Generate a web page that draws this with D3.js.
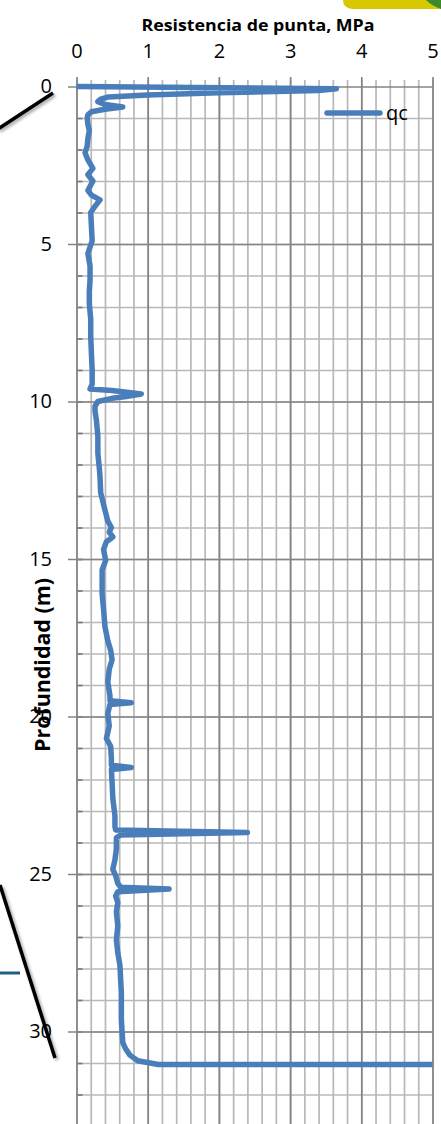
<!DOCTYPE html>
<html><head><meta charset="utf-8">
<script src="https://cdn.jsdelivr.net/npm/d3@7/dist/d3.min.js"></script>
<style>
html,body{margin:0;padding:0;background:#fff;}
svg{display:block;}
text{font-family:"Open Sans","Liberation Sans",sans-serif;fill:#000;}
</style></head>
<body>
<svg id="chart" width="441" height="1124"></svg>
<script>
// ---- data ----
const xTicks = [0, 1, 2, 3, 4, 5];
const yTicks = [0, 5, 10, 15, 20, 25, 30];
const seriesName = "qc";
const xTitle = "Resistencia de punta, MPa";
const yTitle = "Profundidad (m)";
const depth = [0.0,0.07,0.13,0.2,0.27,0.33,0.4,0.48,0.57,0.65,0.72,0.8,0.9,1.0,1.2,1.4,1.65,1.9,2.1,2.33,2.6,2.8,3.0,3.3,3.45,3.6,3.8,4.0,4.45,4.9,5.1,5.3,5.7,6.15,6.5,6.9,7.4,7.95,8.5,9.0,9.45,9.6,9.65,9.76,9.84,9.9,10.0,10.15,10.3,10.6,11.1,11.65,12.1,12.4,12.9,13.45,13.8,14.0,14.15,14.3,14.45,14.7,15.05,15.35,16.1,16.6,17.15,17.6,17.9,18.2,18.5,18.9,19.35,19.5,19.56,19.62,19.9,20.3,20.7,20.95,21.35,21.55,21.62,21.68,22.1,22.6,23.15,23.5,23.6,23.68,23.76,23.85,24.2,24.55,24.85,25.05,25.3,25.42,25.48,25.56,25.7,25.9,26.2,26.65,27.1,27.5,27.9,28.35,28.75,29.2,29.6,30.0,30.35,30.55,30.75,30.93,31.05,31.05];
const qc    = [0.0,3.65,3.4,2.0,1.0,0.45,0.34,0.3,0.4,0.65,0.4,0.21,0.16,0.15,0.16,0.18,0.16,0.15,0.12,0.16,0.23,0.16,0.23,0.16,0.21,0.33,0.26,0.2,0.21,0.22,0.19,0.16,0.19,0.19,0.18,0.18,0.2,0.2,0.21,0.22,0.22,0.19,0.5,0.91,0.7,0.5,0.3,0.26,0.26,0.28,0.3,0.3,0.32,0.33,0.34,0.4,0.44,0.49,0.46,0.51,0.42,0.38,0.41,0.36,0.36,0.38,0.4,0.44,0.48,0.5,0.46,0.44,0.47,0.47,0.77,0.47,0.44,0.46,0.42,0.48,0.49,0.49,0.77,0.49,0.5,0.51,0.54,0.54,0.55,2.4,0.62,0.56,0.56,0.54,0.51,0.55,0.58,0.62,1.3,0.58,0.55,0.58,0.56,0.58,0.56,0.58,0.61,0.62,0.63,0.63,0.63,0.64,0.65,0.69,0.75,0.86,1.15,5.0];

// ---- layout ----
const svg = d3.select("#chart");
const left = 76.5, right = 432.5, top0 = 86.5, pxPerM = 31.5;
const x = d3.scaleLinear().domain([0, 5]).range([left, right]);
const y = d3.scaleLinear().domain([0, 35]).range([top0, top0 + 35 * pxPerM]);
const gridBottom = 1130;

// decorations from the source slide
svg.append("path").attr("d","M343,0 L430,0 L441,0 L441,9 L352,9 Q343,8 343,0 Z").attr("fill","#d8c800");
svg.append("path").attr("d","M426,0 L441,0 L441,9 Q432,6 426,0 Z").attr("fill","#3a8a2a");

// minor vertical grid
svg.append("g").attr("transform",`translate(0,80)`)
  .call(d3.axisTop(x).tickValues(d3.range(0, 5.001, 0.2)).tickSize(-(gridBottom-80)).tickFormat(""))
  .call(g => g.select(".domain").remove())
  .call(g => g.selectAll("line").attr("stroke","#b8b8b8").attr("stroke-width",1.7));
// minor horizontal grid
svg.append("g").attr("transform",`translate(${left},0)`)
  .call(d3.axisLeft(y).tickValues(d3.range(1, 35)).tickSize(-(right-left)).tickFormat(""))
  .call(g => g.select(".domain").remove())
  .call(g => g.selectAll("line").attr("stroke","#b8b8b8").attr("stroke-width",1.7));
// minor inside ticks on depth axis
svg.append("g").attr("transform",`translate(${left},0)`)
  .call(d3.axisLeft(y).tickValues(d3.range(1, 35)).tickSize(-6).tickFormat(""))
  .call(g => g.select(".domain").remove())
  .call(g => g.selectAll("line").attr("stroke","#7a7a7a").attr("stroke-width",1.7));

// major vertical grid + top labels
const gx = svg.append("g").attr("transform",`translate(0,77)`)
  .call(d3.axisTop(x).tickValues(xTicks).tickSize(-(gridBottom-77)).tickPadding(19).tickFormat(d3.format("d")))
  .call(g => g.select(".domain").remove());
gx.selectAll("line").attr("stroke","#858585").attr("stroke-width",1.7);
gx.selectAll("text").attr("font-size",20).attr("fill","#000").style("font-family","'Open Sans',sans-serif");

// major horizontal grid + left labels
const gy = svg.append("g").attr("transform",`translate(68,0)`)
  .call(d3.axisLeft(y).tickValues(yTicks).tickSize(-(right-68)).tickPadding(16).tickFormat(d3.format("d")))
  .call(g => g.select(".domain").remove());
gy.selectAll("line").attr("stroke","#858585").attr("stroke-width",1.7);
gy.selectAll("text").attr("font-size",20).attr("fill","#000").style("font-family","'Open Sans',sans-serif");

// titles
svg.append("text").attr("x",258).attr("y",31).attr("text-anchor","middle")
  .attr("font-size",16).attr("font-weight","bold").attr("fill","#222")
  .attr("textLength",233).attr("lengthAdjust","spacingAndGlyphs").text(xTitle);
svg.append("text").attr("transform","translate(50,665) rotate(-90)").attr("text-anchor","middle")
  .attr("font-size",22).attr("font-weight","bold").attr("fill","#111")
  .attr("textLength",174).attr("lengthAdjust","spacingAndGlyphs").text(yTitle);

// series line
const pts = depth.map((d,i)=>({d, v: qc[i]}));
const line = d3.line().x(p => x(p.v)).y(p => y(p.d)).curve(d3.curveLinear);
svg.append("path").datum(pts).attr("d", line)
  .attr("fill","none").attr("stroke","#4a7ebb").attr("stroke-width",5.5)
  .attr("stroke-linejoin","round").attr("stroke-linecap","butt");

// legend
svg.append("line").attr("x1",327).attr("x2",380).attr("y1",113).attr("y2",113)
  .attr("stroke","#4a7ebb").attr("stroke-width",5.5).attr("stroke-linecap","round");
svg.append("text").attr("x",386).attr("y",113).attr("dy","0.35em")
  .attr("font-size",20).text(seriesName);

// stray slide annotations
const defs = svg.append("defs");
const f = defs.append("filter").attr("id","sh").attr("x","-50%").attr("y","-50%").attr("width","200%").attr("height","200%");
f.append("feDropShadow").attr("dx",2).attr("dy",2).attr("stdDeviation",1.5).attr("flood-color","#000").attr("flood-opacity",0.35);
svg.append("line").attr("x1",-2).attr("y1",129).attr("x2",53).attr("y2",93)
  .attr("stroke","#000").attr("stroke-width",3.5).attr("filter","url(#sh)");
svg.append("line").attr("x1",0).attr("y1",885).attr("x2",55).attr("y2",1058)
  .attr("stroke","#000").attr("stroke-width",3.5).attr("filter","url(#sh)");
svg.append("line").attr("x1",0).attr("y1",973).attr("x2",20).attr("y2",973)
  .attr("stroke","#1f5f88").attr("stroke-width",3);
</script>
</body></html>
